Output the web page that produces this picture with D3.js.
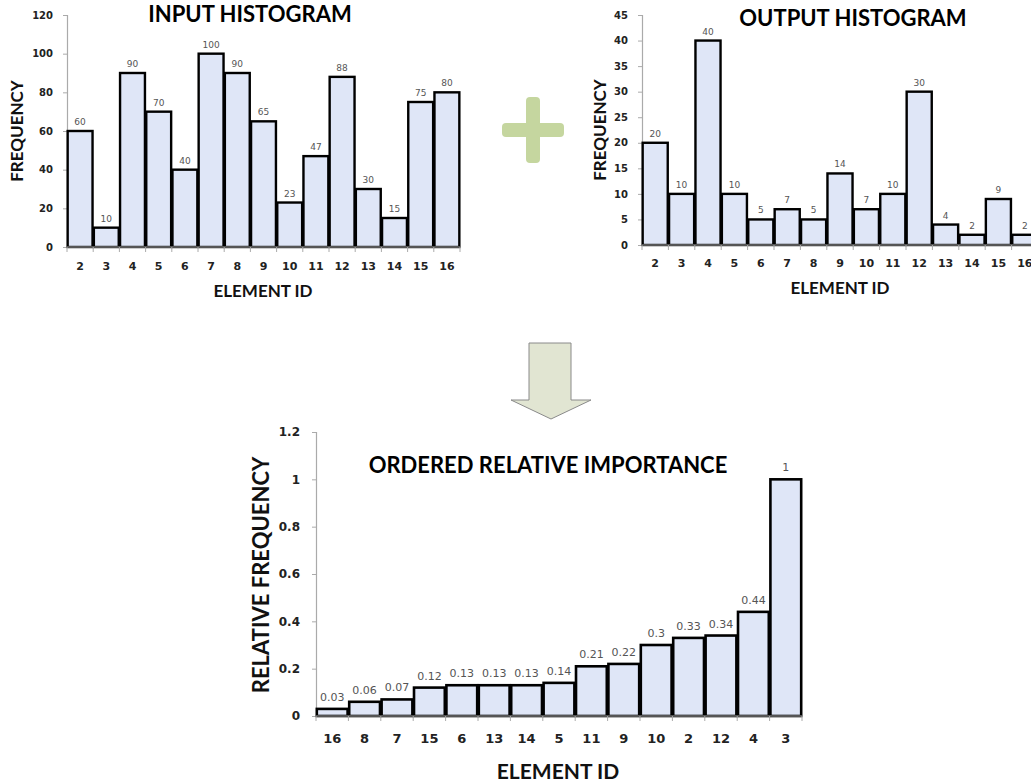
<!DOCTYPE html>
<html>
<head>
<meta charset="utf-8">
<script src="https://cdn.jsdelivr.net/npm/d3@7"></script>
<style>
  html, body { margin: 0; padding: 0; background: #fff; }
  svg { display: block; }
</style>
</head>
<body>
<div id="chart"></div>
<script>
// Histogram data
const inputIds = ["2", "3", "4", "5", "6", "7", "8", "9", "10", "11", "12", "13", "14", "15", "16"];
const inputFreq = [60, 10, 90, 70, 40, 100, 90, 65, 23, 47, 88, 30, 15, 75, 80];
const inputTicks = [0, 20, 40, 60, 80, 100, 120];

const outputIds = ["2", "3", "4", "5", "6", "7", "8", "9", "10", "11", "12", "13", "14", "15", "16"];
const outputFreq = [20, 10, 40, 10, 5, 7, 5, 14, 7, 10, 30, 4, 2, 9, 2];
const outputTicks = [0, 5, 10, 15, 20, 25, 30, 35, 40, 45];

const orderedIds = ["16", "8", "7", "15", "6", "13", "14", "5", "11", "9", "10", "2", "12", "4", "3"];
const relFreq = [0.03, 0.06, 0.07, 0.12, 0.13, 0.13, 0.13, 0.14, 0.21, 0.22, 0.3, 0.33, 0.34, 0.44, 1];
const relTicks = [0, 0.2, 0.4, 0.6, 0.8, 1, 1.2];

const W = 1031, H = 784;
const barFill = "#dfe6f7";
const titleFont = "Lato, 'Open Sans', sans-serif";
const tickFont = "'DejaVu Sans', Verdana, sans-serif";

const svg = d3.select("#chart").append("svg")
  .attr("width", W)
  .attr("height", H);

svg.append("rect").attr("width", W).attr("height", H).attr("fill", "#fff");

function drawHist(o) {
  const g = svg.append("g");

  const x = d3.scaleBand()
    .domain(o.ids)
    .range([o.x0, o.x1])
    .paddingInner(0.05)
    .paddingOuter(0.025);

  const y = d3.scaleLinear()
    .domain([0, o.max])
    .range([o.y0, o.y1]);

  // y axis
  const yAxis = g.append("g")
    .attr("transform", `translate(${o.x0},0)`)
    .call(d3.axisLeft(y).tickValues(o.ticks).tickSize(4).tickPadding(o.tickPad)
      .tickFormat(d => d3.format("~g")(d)));
  yAxis.select(".domain").attr("stroke", "#aaa").attr("stroke-width", 1.2);
  yAxis.selectAll(".tick line").attr("stroke", "#aaa");
  yAxis.selectAll(".tick text")
    .attr("font-family", tickFont)
    .attr("font-weight", "bold")
    .attr("font-size", o.yFont)
    .attr("fill", "#222");

  // bars
  g.selectAll("rect.bar")
    .data(o.values)
    .join("rect")
    .attr("class", "bar")
    .attr("x", (d, i) => x(o.ids[i]))
    .attr("y", d => y(d))
    .attr("width", x.bandwidth())
    .attr("height", d => o.y0 - y(d))
    .attr("fill", barFill)
    .attr("stroke", "#000")
    .attr("stroke-width", o.stroke);

  // value labels
  g.selectAll("text.val")
    .data(o.values)
    .join("text")
    .attr("class", "val")
    .attr("x", (d, i) => x(o.ids[i]) + x.bandwidth() / 2)
    .attr("y", d => y(d) - o.valGap)
    .attr("text-anchor", "middle")
    .attr("font-family", tickFont)
    .attr("font-size", o.valFont)
    .attr("fill", "#555")
    .text(d => d3.format("~g")(d));

  // x axis: baseline, tick marks between categories
  const bounds = d3.range(o.ids.length + 1).map(i => o.x0 + i * (o.x1 - o.x0) / o.ids.length);
  g.append("line")
    .attr("x1", o.x0).attr("x2", o.x1)
    .attr("y1", o.y0).attr("y2", o.y0)
    .attr("stroke", "#555").attr("stroke-width", 2);
  g.selectAll("line.xt")
    .data(bounds)
    .join("line")
    .attr("class", "xt")
    .attr("x1", d => d).attr("x2", d => d)
    .attr("y1", o.y0).attr("y2", o.y0 + 5)
    .attr("stroke", "#aaa");
  g.selectAll("text.xl")
    .data(o.ids)
    .join("text")
    .attr("class", "xl")
    .attr("x", d => x(d) + x.bandwidth() / 2)
    .attr("y", o.y0 + o.xLabGap)
    .attr("text-anchor", "middle")
    .attr("font-family", tickFont)
    .attr("font-weight", "bold")
    .attr("font-size", o.xFont)
    .attr("fill", "#222")
    .text(d => d);

  // titles
  g.append("text")
    .attr("x", o.title[0]).attr("y", o.title[1])
    .attr("text-anchor", "middle")
    .attr("font-family", titleFont)
    .attr("font-weight", "bold")
    .attr("font-size", o.titleSize)
    .attr("fill", "#000")
    .text(o.titleText);

  g.append("text")
    .attr("x", o.xTitle[0]).attr("y", o.xTitle[1])
    .attr("text-anchor", "middle")
    .attr("font-family", titleFont)
    .attr("font-weight", "bold")
    .attr("font-size", o.axisSize)
    .attr("fill", "#111")
    .text("ELEMENT ID");

  g.append("text")
    .attr("transform", `translate(${o.yTitle[0]},${o.yTitle[1]}) rotate(-90)`)
    .attr("text-anchor", "middle")
    .attr("font-family", titleFont)
    .attr("font-weight", "bold")
    .attr("font-size", o.yAxisSize || o.axisSize)
    .attr("fill", "#111")
    .text(o.yTitleText);
}

drawHist({
  ids: inputIds, values: inputFreq, ticks: inputTicks, max: 120,
  x0: 67, x1: 460, y0: 247, y1: 15,
  stroke: 2.4, yFont: 10, xFont: 11, valFont: 9, valGap: 6, xLabGap: 23, tickPad: 10,
  titleText: "INPUT HISTOGRAM", title: [250, 22], titleSize: 22,
  xTitle: [263, 297], axisSize: 17,
  yTitleText: "FREQUENCY", yTitle: [23, 131]
});

drawHist({
  ids: outputIds, values: outputFreq, ticks: outputTicks, max: 45,
  x0: 642, x1: 1038, y0: 245, y1: 15,
  stroke: 2.4, yFont: 10, xFont: 11, valFont: 9, valGap: 6, xLabGap: 22, tickPad: 10,
  titleText: "OUTPUT HISTOGRAM", title: [853, 26], titleSize: 22,
  xTitle: [840, 294], axisSize: 17,
  yTitleText: "FREQUENCY", yTitle: [606, 130]
});

drawHist({
  ids: orderedIds, values: relFreq, ticks: relTicks, max: 1.2,
  x0: 316, x1: 802, y0: 716, y1: 432,
  stroke: 2.6, yFont: 12, xFont: 13, valFont: 11, valGap: 8, xLabGap: 27, tickPad: 12,
  titleText: "ORDERED RELATIVE IMPORTANCE", title: [548, 473], titleSize: 22,
  xTitle: [558, 779], axisSize: 21, yAxisSize: 22,
  yTitleText: "RELATIVE FREQUENCY", yTitle: [269, 575]
});

// plus sign between the two histograms
const plus = svg.append("g").attr("fill", "#c5d69f");
plus.append("rect").attr("x", 526).attr("y", 97).attr("width", 14).attr("height", 66).attr("rx", 4);
plus.append("rect").attr("x", 502).attr("y", 123).attr("width", 62).attr("height", 14).attr("rx", 4);

// down arrow pointing to the ordered chart
const arrow = d3.path();
arrow.moveTo(529, 343);
arrow.lineTo(571, 343);
arrow.lineTo(571, 400);
arrow.lineTo(591, 400);
arrow.lineTo(551, 419);
arrow.lineTo(511, 400);
arrow.lineTo(529, 400);
arrow.closePath();
svg.append("path")
  .attr("d", arrow.toString())
  .attr("fill", "#e1e5d2")
  .attr("stroke", "#8a8a8a")
  .attr("stroke-width", 1);
</script>
</body>
</html>
